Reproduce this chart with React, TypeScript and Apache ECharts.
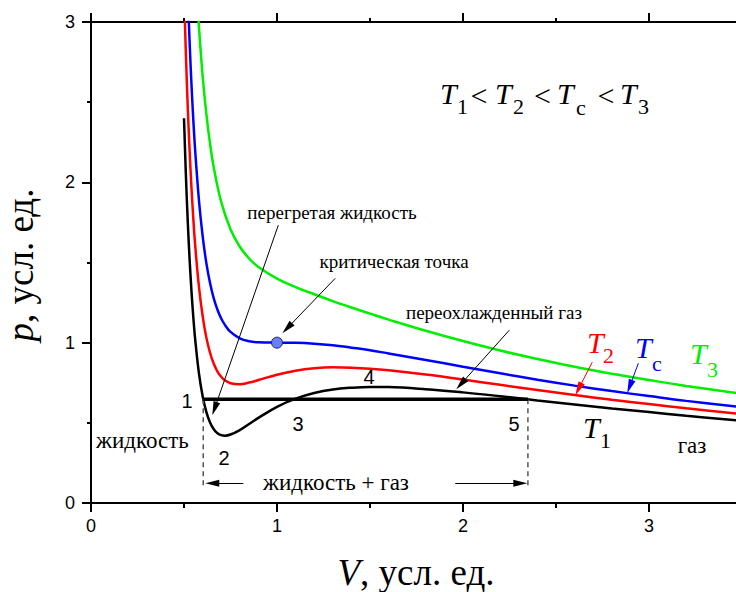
import React, { useEffect, useRef } from 'react';
import * as echarts from 'echarts';

// Reduced volume grid (V, усл. ед.)
const V_MAIN = [0.5, 0.51, 0.52, 0.53, 0.54, 0.55, 0.56, 0.58, 0.6, 0.62, 0.64, 0.66, 0.68, 0.7, 0.72, 0.75, 0.8, 0.85, 0.9, 1.0, 1.1, 1.2, 1.3, 1.4, 1.5, 1.6, 1.8, 2.0, 2.2, 2.4, 2.6, 2.8, 3.0, 3.2, 3.5];
const P_T1 = [2.4, 2.051, 1.762, 1.523, 1.325, 1.16, 1.022, 0.812, 0.667, 0.568, 0.502, 0.46, 0.435, 0.423, 0.42, 0.427, 0.455, 0.493, 0.531, 0.6, 0.651, 0.686, 0.708, 0.719, 0.724, 0.723, 0.71, 0.69, 0.666, 0.64, 0.615, 0.59, 0.567, 0.544, 0.513];
const P_T2 = [3.2, 2.806, 2.476, 2.201, 1.97, 1.775, 1.61, 1.352, 1.167, 1.033, 0.937, 0.868, 0.82, 0.787, 0.765, 0.747, 0.741, 0.751, 0.767, 0.8, 0.825, 0.84, 0.846, 0.844, 0.838, 0.828, 0.801, 0.77, 0.737, 0.705, 0.674, 0.644, 0.617, 0.591, 0.555];
const P_TC = [4.0, 3.56, 3.191, 2.879, 2.615, 2.391, 2.199, 1.893, 1.667, 1.498, 1.372, 1.276, 1.205, 1.151, 1.111, 1.067, 1.027, 1.009, 1.002, 1.0, 0.999, 0.994, 0.984, 0.969, 0.953, 0.933, 0.892, 0.85, 0.809, 0.769, 0.732, 0.698, 0.667, 0.637, 0.597];
const V_T3 = [0.55, 0.56, 0.57, 0.58, 0.6, 0.62, 0.64, 0.66, 0.7, 0.75, 0.8, 0.85, 0.9, 1.0, 1.1, 1.2, 1.3, 1.4, 1.5, 1.6, 1.8, 2.0, 2.2, 2.4, 2.6, 2.8, 3.0, 3.2, 3.5];
const P_T3 = [3.621, 3.375, 3.16, 2.974, 2.667, 2.429, 2.241, 2.093, 1.878, 1.707, 1.598, 1.525, 1.472, 1.4, 1.347, 1.302, 1.259, 1.219, 1.181, 1.144, 1.074, 1.01, 0.951, 0.898, 0.85, 0.806, 0.767, 0.73, 0.681];

// Two-phase (horizontal) segment and its ends
const V_LIQ = 0.6034;
const V_GAS = 2.349;
const P_SAT = 0.647;
const P_DASH_BOTTOM = 0.09;
const CRITICAL = [1, 1];

// Annotation arrows: [fromV, fromP, toV, toP, color]
const ARROWS: [number, number, number, number, string][] = [
  [1.007, 1.733, 0.6645, 0.5885, '#000'],
  [1.313, 1.401, 1.055, 1.09, '#000'],
  [2.249, 1.078, 1.989, 0.742, '#000'],
  [2.695, 0.878, 2.621, 0.711, '#ff0000'],
  [2.943, 0.872, 2.896, 0.726, '#0000ff'],
  [0.819, 0.123, 0.652, 0.123, '#000'],
  [1.958, 0.123, 2.308, 0.123, '#000'],
];

const X_TICKS = [0, 1, 2, 3];
const Y_TICKS = [0, 1, 2, 3];

const pairs = (xs: number[], ys: number[]) => xs.map((x, i) => [x, ys[i]]);

const SERIF = 'Liberation Serif';
const SANS = 'Liberation Sans';

function txt(x: number, y: number, text: string, size: number, o: any = {}) {
  return {
    type: 'text',
    x,
    y,
    rotation: o.rotation || 0,
    silent: true,
    z: 100,
    style: {
      text,
      fontSize: size,
      fontFamily: o.family || SERIF,
      fontStyle: o.italic ? 'italic' : 'normal',
      fill: o.color || '#000',
      align: o.align || 'center',
      verticalAlign: 'middle',
      rich: o.rich,
    },
  };
}

function tSym(x: number, yc: number, sub: string, subX: number, subY: number, color: string) {
  return [
    txt(x, yc, 'T', 30, { italic: true, color, align: 'left' }),
    txt(subX, subY, sub, 22, { color, align: 'left' }),
  ];
}

export default function App() {
  const ref = useRef<HTMLDivElement>(null);
  useEffect(() => {
    const chart = echarts.init(ref.current!, null, { renderer: 'svg' });
    const axisCommon = {
      type: 'value',
      min: 0,
      interval: 1,
      splitLine: { show: false },
      axisLine: { show: true, onZero: false, lineStyle: { color: '#000', width: 2 } },
      axisTick: { show: true, inside: false, length: 9, lineStyle: { color: '#000', width: 2 } },
      minorTick: { show: true, splitNumber: 2, length: 4, lineStyle: { color: '#000', width: 2 } },
    };
    const lineS = (name: string, data: number[][], color: string) => ({
      name,
      type: 'line',
      data,
      smooth: 0.4,
      symbol: 'none',
      clip: true,
      lineStyle: { color, width: 2.5 },
      z: 2,
      silent: true,
    });

    const serifRich = {
      i: { fontSize: 37, fontFamily: SERIF, fontStyle: 'italic', fill: '#000' },
      n: { fontSize: 37, fontFamily: SERIF, fill: '#000' },
    };

    const graphics: any[] = [
      // title
      ...tSym(440, 93, '1', 457, 106.5, '#000'),
      txt(479, 95, '<', 30),
      ...tSym(495, 93, '2', 513, 106.5, '#000'),
      txt(542.5, 95, '<', 30),
      ...tSym(557, 93, 'c', 576, 107, '#000'),
      txt(606, 95, '<', 30),
      ...tSym(620, 93, '3', 638, 106.5, '#000'),
      // curve labels
      ...tSym(583, 427, '1', 600, 440.5, '#000'),
      ...tSym(587, 342, '2', 603, 355.5, '#ff0000'),
      ...tSym(635, 347, 'c', 652, 363, '#0000ff'),
      ...tSym(690, 353, '3', 707, 369.5, '#00ee00'),
      // annotations
      txt(332, 212, 'перегретая жидкость', 19),
      txt(394, 261, 'критическая точка', 19),
      txt(494, 312, 'переохлажденный газ', 19),
      txt(96, 440, 'жидкость', 23, { align: 'left' }),
      txt(336, 482, 'жидкость + газ', 23),
      txt(692, 445, 'газ', 23),
      txt(187, 401, '1', 20, { family: SANS }),
      txt(224, 458, '2', 20, { family: SANS }),
      txt(298, 424, '3', 20, { family: SANS }),
      txt(369, 377, '4', 20, { family: SANS }),
      txt(514, 424, '5', 20, { family: SANS }),
      // axis names
      txt(416, 572, '{i|V}{n|, усл. ед.}', 37, { rich: serifRich }),
      txt(20, 265, '{i|p}{n|, усл. ед.}', 37, { rotation: Math.PI / 2, rich: serifRich }),
    ];

    chart.setOption({
      animation: false,
      backgroundColor: '#fff',
      grid: { left: 91, top: 22, width: 651, height: 481, containLabel: false },
      xAxis: [
        {
          ...axisCommon,
          max: 3.5,
          position: 'bottom',
          minorTick: { ...axisCommon.minorTick, length: 5 },
          axisLabel: {
            show: true,
            margin: 14,
            fontSize: 18,
            fontFamily: SANS,
            color: '#000',
            formatter: (v: number) => (X_TICKS.includes(v) ? String(v) : ''),
          },
        },
        {
          ...axisCommon,
          max: 3.5,
          position: 'top',
          axisLabel: { show: false },
        },
      ],
      yAxis: [
        {
          ...axisCommon,
          max: 3,
          position: 'left',
          axisLabel: {
            show: true,
            margin: 16,
            fontSize: 18,
            fontFamily: SANS,
            color: '#000',
            formatter: (v: number) => (Y_TICKS.includes(v) ? String(v) : ''),
          },
        },
      ],
      series: [
        lineS('T3', pairs(V_T3, P_T3), '#00ee00'),
        lineS('Tc', pairs(V_MAIN, P_TC), '#0000ff'),
        lineS('T2', pairs(V_MAIN, P_T2), '#ff0000'),
        lineS('T1', pairs(V_MAIN, P_T1), '#000000'),
        {
          name: 'liq-dash',
          type: 'line',
          data: [[V_LIQ, P_SAT], [V_LIQ, P_DASH_BOTTOM]],
          symbol: 'none',
          silent: true,
          lineStyle: { color: '#555', width: 1.5, type: [5, 4] },
        },
        {
          name: 'gas-dash',
          type: 'line',
          data: [[V_GAS, P_SAT], [V_GAS, P_DASH_BOTTOM]],
          symbol: 'none',
          silent: true,
          lineStyle: { color: '#555', width: 1.5, type: [5, 4] },
        },
        {
          name: 'maxwell',
          type: 'line',
          data: [[V_LIQ, P_SAT], [V_GAS, P_SAT]],
          symbol: 'none',
          silent: true,
          z: 3,
          lineStyle: { color: '#000', width: 3.5 },
          markLine: {
            silent: true,
            symbol: ['none', 'triangle'],
            symbolSize: [7, 14],
            label: { show: false },
            emphasis: { disabled: true },
            data: ARROWS.map(([x1, y1, x2, y2, c]) => [
              { coord: [x1, y1], lineStyle: { color: c, width: 1, type: 'solid' }, itemStyle: { color: c } },
              { coord: [x2, y2], symbolSize: [7, 14], itemStyle: { color: c } },
            ]),
          },
        },
        {
          name: 'critical',
          type: 'scatter',
          data: [CRITICAL],
          symbol: 'circle',
          symbolSize: 11,
          z: 5,
          silent: true,
          itemStyle: { color: '#6a7ff2', borderColor: '#1a237e', borderWidth: 1, opacity: 1 },
        },
      ],
      graphic: graphics,
    });
    return () => chart.dispose();
  }, []);
  return (
    <div style={{ position: 'absolute', left: 0, top: 0, width: 736, height: 592, overflow: 'hidden', background: '#fff' }}>
      <div ref={ref} style={{ width: 760, height: 592 }} />
    </div>
  );
}
